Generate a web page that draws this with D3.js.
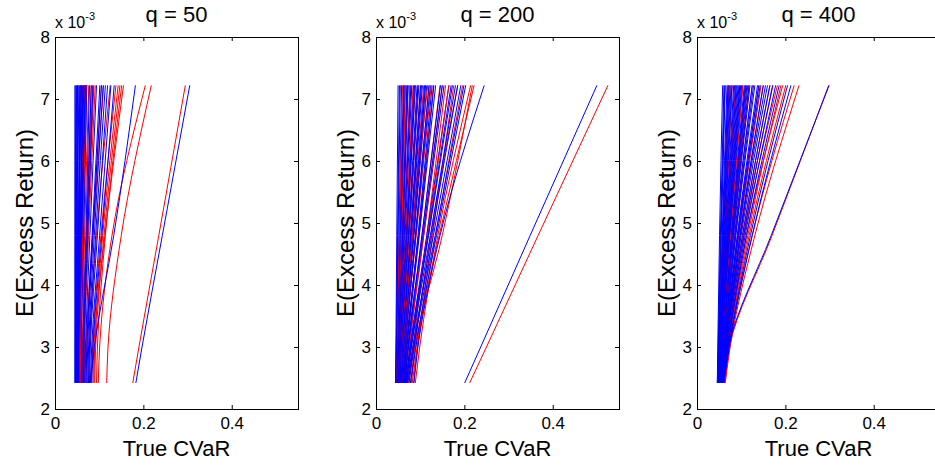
<!DOCTYPE html>
<html>
<head>
<meta charset="utf-8">
<script src="https://cdn.jsdelivr.net/npm/d3@7"></script>
<style>
  html, body { margin: 0; padding: 0; background: #fff; }
  svg { display: block; font-family: "Liberation Sans", Arial, sans-serif; }
</style>
</head>
<body>
<svg id="chart"></svg>
<script>
// True CVaR vs E(Excess Return), three sample sizes q.

// ─── Data ─────────────────────────────────────────────────────────────────────
const panelTitles = ['q = 50', 'q = 200', 'q = 400'];
const xTicks      = [0, 0.2, 0.4];
const yTicks      = [2, 3, 4, 5, 6, 7, 8];
// every frontier is sampled at these returns (x 10^-3); rows below hold True CVaR at each
const yLevels     = [2.42, 3.0, 4.8, 7.22];

const blueQ50 = [
  [0.045, 0.045, 0.045, 0.045], [0.046, 0.046, 0.046, 0.047], [0.047, 0.047, 0.047, 0.049],
  [0.048, 0.048, 0.049, 0.051], [0.049, 0.049, 0.050, 0.052], [0.050, 0.050, 0.051, 0.054],
  [0.051, 0.051, 0.053, 0.056], [0.052, 0.052, 0.054, 0.057], [0.053, 0.053, 0.055, 0.059],
  [0.054, 0.054, 0.057, 0.061], [0.055, 0.055, 0.058, 0.063], [0.056, 0.056, 0.059, 0.064],
  [0.057, 0.057, 0.061, 0.066], [0.058, 0.058, 0.062, 0.068], [0.059, 0.059, 0.063, 0.070],
  [0.060, 0.060, 0.065, 0.072], [0.048, 0.049, 0.056, 0.067], [0.050, 0.051, 0.058, 0.071],
  [0.062, 0.063, 0.070, 0.078], [0.065, 0.066, 0.074, 0.086], [0.070, 0.072, 0.084, 0.1015],
  [0.074, 0.076, 0.089, 0.109], [0.078, 0.080, 0.096, 0.119], [0.080, 0.083, 0.101, 0.1265],
  [0.083, 0.086, 0.106, 0.134], [0.0795, 0.089, 0.133, 0.182], [0.183, 0.197, 0.243, 0.305],
  [0.046, 0.046, 0.048, 0.050], [0.049, 0.050, 0.053, 0.060], [0.051, 0.052, 0.057, 0.065],
  [0.053, 0.054, 0.060, 0.069], [0.063, 0.064, 0.072, 0.082], [0.067, 0.069, 0.079, 0.094],
  [0.072, 0.074, 0.086, 0.105], [0.076, 0.078, 0.092, 0.114]
];
const redQ50 = [
  [0.050, 0.050, 0.053, 0.058], [0.052, 0.053, 0.057, 0.063], [0.055, 0.056, 0.061, 0.068],
  [0.058, 0.059, 0.064, 0.072], [0.061, 0.062, 0.067, 0.0765], [0.062, 0.063, 0.071, 0.082],
  [0.064, 0.065, 0.074, 0.088], [0.066, 0.067, 0.076, 0.091], [0.068, 0.070, 0.085, 0.105],
  [0.088, 0.090, 0.108, 0.143], [0.090, 0.092, 0.111, 0.147], [0.094, 0.096, 0.114, 0.151],
  [0.086, 0.088, 0.113, 0.155], [0.098, 0.101, 0.129, 0.2045], [0.117, 0.120, 0.150, 0.218],
  [0.176, 0.190, 0.235, 0.295],
  [0.054, 0.055, 0.059, 0.066], [0.057, 0.058, 0.063, 0.070], [0.063, 0.064, 0.072, 0.085],
  [0.070, 0.072, 0.086, 0.110], [0.076, 0.078, 0.094, 0.125], [0.082, 0.085, 0.104, 0.138]
];

const blueQ200 = [
  [0.044, 0.045, 0.047, 0.050], [0.045, 0.046, 0.050, 0.055], [0.046, 0.047, 0.052, 0.058],
  [0.047, 0.048, 0.054, 0.062], [0.048, 0.050, 0.057, 0.066], [0.049, 0.051, 0.059, 0.070],
  [0.050, 0.052, 0.061, 0.073], [0.050, 0.053, 0.063, 0.077], [0.051, 0.054, 0.066, 0.081],
  [0.052, 0.055, 0.068, 0.085], [0.053, 0.056, 0.070, 0.089], [0.054, 0.057, 0.073, 0.093],
  [0.055, 0.058, 0.075, 0.097], [0.056, 0.060, 0.078, 0.101], [0.057, 0.061, 0.080, 0.105],
  [0.058, 0.062, 0.083, 0.110], [0.059, 0.063, 0.086, 0.115], [0.060, 0.065, 0.089, 0.120],
  [0.061, 0.069, 0.095, 0.127], [0.062, 0.070, 0.098, 0.135], [0.063, 0.073, 0.104, 0.146],
  [0.064, 0.074, 0.108, 0.154], [0.066, 0.077, 0.115, 0.165], [0.067, 0.079, 0.119, 0.173],
  [0.068, 0.080, 0.123, 0.180], [0.070, 0.083, 0.130, 0.192], [0.072, 0.085, 0.134, 0.199],
  [0.086, 0.095, 0.145, 0.245], [0.2007, 0.237, 0.349, 0.500],
  [0.045, 0.046, 0.049, 0.053], [0.047, 0.049, 0.055, 0.064], [0.049, 0.051, 0.060, 0.072],
  [0.051, 0.053, 0.064, 0.079], [0.053, 0.055, 0.069, 0.087], [0.055, 0.057, 0.074, 0.095],
  [0.057, 0.060, 0.079, 0.103], [0.058, 0.063, 0.085, 0.112], [0.060, 0.066, 0.090, 0.123],
  [0.062, 0.068, 0.097, 0.131], [0.065, 0.072, 0.106, 0.150], [0.069, 0.078, 0.118, 0.170],
  [0.075, 0.086, 0.126, 0.185], [0.078, 0.090, 0.137, 0.203]
];
const redQ200 = [
  [0.050, 0.052, 0.057, 0.063], [0.052, 0.054, 0.061, 0.070], [0.055, 0.058, 0.071, 0.089],
  [0.057, 0.060, 0.078, 0.1007], [0.058, 0.062, 0.082, 0.108], [0.060, 0.064, 0.085, 0.112],
  [0.064, 0.070, 0.096, 0.130], [0.066, 0.073, 0.104, 0.145], [0.074, 0.084, 0.115, 0.1575],
  [0.082, 0.093, 0.128, 0.176], [0.089, 0.099, 0.140, 0.2143], [0.070, 0.087, 0.143, 0.222],
  [0.062, 0.067, 0.090, 0.120], [0.212, 0.250, 0.367, 0.525],
  [0.046, 0.048, 0.053, 0.060], [0.048, 0.050, 0.058, 0.067], [0.051, 0.053, 0.064, 0.077],
  [0.053, 0.056, 0.068, 0.084], [0.056, 0.059, 0.075, 0.095], [0.059, 0.063, 0.083, 0.117],
  [0.061, 0.066, 0.091, 0.125], [0.068, 0.076, 0.108, 0.150], [0.071, 0.080, 0.117, 0.165],
  [0.078, 0.088, 0.124, 0.185], [0.085, 0.094, 0.135, 0.196], [0.080, 0.090, 0.150, 0.218]
];

const blueQ400 = [
  [0.046, 0.048, 0.053, 0.061], [0.047, 0.049, 0.055, 0.064], [0.047, 0.050, 0.057, 0.068],
  [0.048, 0.051, 0.059, 0.071], [0.048, 0.052, 0.061, 0.075], [0.049, 0.053, 0.063, 0.079],
  [0.049, 0.053, 0.065, 0.083], [0.050, 0.054, 0.067, 0.087], [0.050, 0.055, 0.069, 0.091],
  [0.051, 0.056, 0.071, 0.095], [0.051, 0.056, 0.073, 0.099], [0.052, 0.057, 0.075, 0.103],
  [0.052, 0.058, 0.077, 0.107], [0.053, 0.059, 0.079, 0.111], [0.053, 0.059, 0.081, 0.115],
  [0.054, 0.060, 0.083, 0.120], [0.054, 0.061, 0.085, 0.125], [0.055, 0.062, 0.088, 0.131],
  [0.055, 0.063, 0.091, 0.137], [0.056, 0.064, 0.094, 0.143], [0.056, 0.065, 0.097, 0.150],
  [0.057, 0.066, 0.100, 0.1595], [0.058, 0.068, 0.106, 0.171], [0.058, 0.069, 0.109, 0.178],
  [0.059, 0.070, 0.112, 0.186], [0.060, 0.072, 0.121, 0.205], [0.061, 0.073, 0.125, 0.2125],
  [0.057, 0.071, 0.168, 0.299],
  [0.046, 0.047, 0.051, 0.058], [0.047, 0.049, 0.054, 0.063], [0.048, 0.050, 0.058, 0.070],
  [0.048, 0.051, 0.060, 0.073], [0.049, 0.052, 0.062, 0.077], [0.050, 0.053, 0.066, 0.085],
  [0.050, 0.054, 0.068, 0.089], [0.051, 0.055, 0.070, 0.093], [0.051, 0.055, 0.072, 0.097],
  [0.052, 0.056, 0.074, 0.101], [0.053, 0.058, 0.078, 0.109], [0.053, 0.058, 0.080, 0.113],
  [0.054, 0.059, 0.082, 0.118], [0.055, 0.061, 0.087, 0.128], [0.056, 0.063, 0.092, 0.140],
  [0.057, 0.065, 0.098, 0.155], [0.057, 0.066, 0.103, 0.165]
];
const redQ400 = [
  [0.050, 0.054, 0.064, 0.080], [0.052, 0.057, 0.072, 0.097], [0.054, 0.059, 0.079, 0.110],
  [0.056, 0.061, 0.086, 0.125], [0.057, 0.063, 0.093, 0.140], [0.058, 0.065, 0.098, 0.150],
  [0.060, 0.068, 0.107, 0.182], [0.061, 0.070, 0.112, 0.194], [0.062, 0.072, 0.118, 0.201],
  [0.063, 0.073, 0.125, 0.220], [0.064, 0.075, 0.131, 0.231], [0.060, 0.073, 0.170, 0.298],
  [0.049, 0.052, 0.060, 0.072], [0.051, 0.055, 0.068, 0.088], [0.053, 0.058, 0.076, 0.104],
  [0.055, 0.060, 0.082, 0.117], [0.058, 0.064, 0.095, 0.145], [0.059, 0.066, 0.103, 0.165],
  [0.060, 0.067, 0.105, 0.172], [0.062, 0.071, 0.115, 0.190]
];

const panelBlue = [blueQ50, blueQ200, blueQ400];
const panelRed  = [redQ50, redQ200, redQ400];

// ─── Layout ───────────────────────────────────────────────────────────────────
const WIDTH  = 935;
const HEIGHT = 466;
const panelLeft = [55, 376, 697];
const TOP = 37;
const W   = 243;
const H   = 372;
const FONT = '"Liberation Sans", Arial, sans-serif';

const svg = d3.select('#chart').attr('width', WIDTH).attr('height', HEIGHT);

const x = d3.scaleLinear().domain([0, 0.55]).range([0, W]);
const y = d3.scaleLinear().domain([2, 8]).range([H, 0]);

const line = d3.line()
  .x(d => x(d[0]))
  .y(d => y(d[1]))
  .curve(d3.curveMonotoneY);

svg.append('defs').append('clipPath')
  .attr('id', 'plot-clip')
  .append('rect')
  .attr('width', W)
  .attr('height', H);

// ─── Panels ───────────────────────────────────────────────────────────────────
panelTitles.forEach((title, p) => {
  const g = svg.append('g').attr('transform', `translate(${panelLeft[p]},${TOP})`);

  // interleave blue / red runs in plotting order
  const runs = [];
  const n = Math.max(panelBlue[p].length, panelRed[p].length);
  for (let i = 0; i < n; i++) {
    if (panelBlue[p][i]) runs.push({ xs: panelBlue[p][i], color: '#0000ff' });
    if (panelRed[p][i])  runs.push({ xs: panelRed[p][i],  color: '#ff0000' });
  }

  g.append('g')
    .attr('clip-path', 'url(#plot-clip)')
    .selectAll('path')
    .data(runs)
    .join('path')
    .attr('d', d => line(d.xs.map((v, i) => [v, yLevels[i]])))
    .attr('fill', 'none')
    .attr('stroke', d => d.color)
    .attr('stroke-width', 1);

  // Axes (ticks inward, box on)
  const bottom = g.append('g')
    .attr('transform', `translate(0,${H})`)
    .call(d3.axisBottom(x).tickValues(xTicks).tickSize(-4).tickPadding(8).tickFormat(d => String(d)));
  const left = g.append('g')
    .call(d3.axisLeft(y).tickValues(yTicks).tickSize(-4).tickPadding(5).tickFormat(d => String(d)));
  const topAx = g.append('g')
    .call(d3.axisTop(x).tickValues(xTicks).tickSize(-4).tickFormat(''));
  const rightAx = g.append('g')
    .attr('transform', `translate(${W},0)`)
    .call(d3.axisRight(y).tickValues(yTicks).tickSize(-4).tickFormat(''));

  [bottom, left, topAx, rightAx].forEach(a => {
    a.select('.domain').remove();
    a.selectAll('line').attr('stroke', '#000');
    a.selectAll('text')
      .attr('font-family', FONT)
      .attr('font-size', 17)
      .attr('fill', '#000');
  });

  g.append('rect')
    .attr('x', 0.5).attr('y', 0.5)
    .attr('width', W).attr('height', H)
    .attr('fill', 'none')
    .attr('stroke', '#000')
    .attr('stroke-width', 1);

  // Title
  g.append('text')
    .attr('x', W / 2)
    .attr('y', 22 - TOP)
    .attr('text-anchor', 'middle')
    .attr('font-family', FONT)
    .attr('font-size', 22)
    .text(title);

  // Exponent label
  const ex = g.append('text')
    .attr('x', 0)
    .attr('y', 28 - TOP)
    .attr('font-family', FONT)
    .attr('font-size', 16);
  ex.append('tspan').text('x 10');
  ex.append('tspan').attr('font-size', 11).attr('dy', -8).text('-3');

  // Axis labels
  g.append('text')
    .attr('x', W / 2)
    .attr('y', 456 - TOP)
    .attr('text-anchor', 'middle')
    .attr('font-family', FONT)
    .attr('font-size', 22)
    .text('True CVaR');

  g.append('text')
    .attr('transform', `translate(-22,${H / 2}) rotate(-90)`)
    .attr('text-anchor', 'middle')
    .attr('font-family', FONT)
    .attr('font-size', 24)
    .text('E(Excess Return)');
});
</script>
</body>
</html>
